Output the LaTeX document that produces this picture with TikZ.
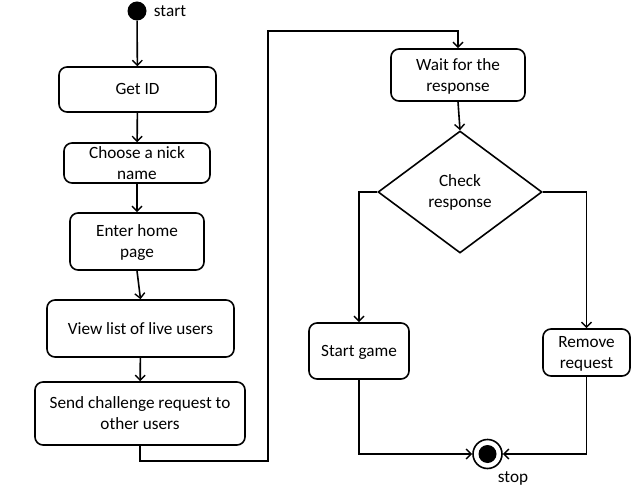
\documentclass[tikz,border=0pt]{standalone}
\usepackage{fontspec}
\setmainfont{Carlito}
\usetikzlibrary{arrows.meta,shapes.geometric}
\begin{document}
\begin{tikzpicture}[x=1bp,y=-1bp,
  every node/.style={font=\fontsize{17.2bp}{21bp}\selectfont},
  ln/.style={line width=1.6bp, black},
  arr/.style={ln, -{Straight Barb[length=5bp,width=10bp,line width=1.4bp]}},
  act/.style={draw, ln, rectangle, rounded corners=8bp, align=center, inner sep=0pt, fill=white, text depth=0.5bp},
  dec/.style={draw, ln, diamond, align=center, inner sep=0pt, aspect=1.344, minimum width=164bp, minimum height=122bp}]
\useasboundingbox (0,0) rectangle (640,491);
\node[circle, fill=black, inner sep=0pt, minimum size=19bp] (start) at (137,11) {};
\node (startlbl) at (170,11.5) {start};
\node[act, minimum width=157bp, minimum height=45bp] (getid) at (137.5,89.5) {Get ID};
\node[act, minimum width=146bp, minimum height=40bp] (nick) at (137,163) {Choose a nick\\name};
\node[act, minimum width=134bp, minimum height=57bp] (home) at (137,241.5) {Enter home\\page};
\node[act, minimum width=187bp, minimum height=57bp] (view) at (140.5,328.5) {View list of live users};
\node[act, minimum width=210bp, minimum height=63bp] (send) at (140,413.5) {Send challenge request to\\other users};
\node[act, minimum width=134bp, minimum height=52bp] (wait) at (458,75) {Wait for the\\response};
\node[dec] (check) at (460,192) {Check\\response};
\node[act, minimum width=100bp, minimum height=56bp] (game) at (359,351) {Start game};
\node[act, minimum width=87bp, minimum height=47bp] (remove) at (586.5,352.5) {Remove\\request};
\node[circle, draw, ln, fill=white, inner sep=0pt, minimum size=29bp] (stop) at (487.5,454) {};
\node[circle, fill=black, inner sep=0pt, minimum size=18bp] (stopin) at (stop.center) {};
\node (stoplbl) at (513,478.5) {stop};
\coordinate (j1) at (268,461);
\coordinate (j2) at (268,31);
\draw[arr] (start) -- (getid);
\draw[arr] (getid) -- (nick);
\draw[arr] (nick) -- (home);
\draw[arr] (home.south) -- (view.north);
\draw[arr] (view) -- (send);
\draw[arr] (send.south) |- (j1) -- (j2) -| (wait.north);
\draw[arr] (wait.south) -- (check.north);
\draw[arr] (check.west) -| (game.north);
\draw[arr] (check.east) -| (remove.north);
\draw[arr] (game.south) |- (stop.west);
\draw[arr] (remove.south) |- (stop.east);
\end{tikzpicture}
\end{document}
